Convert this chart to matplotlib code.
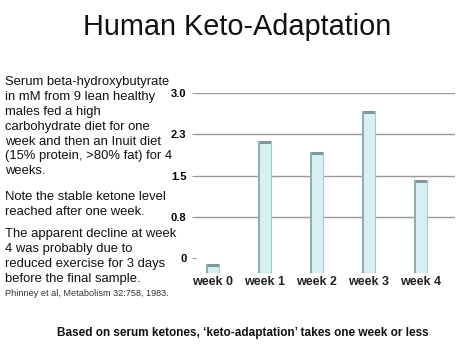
import numpy as np
import matplotlib
matplotlib.use("Agg")
import matplotlib.pyplot as plt
import matplotlib.transforms as mtransforms

plt.rcParams['font.family'] = ['Liberation Sans', 'DejaVu Sans']

weeks = ["week 0", "week 1", "week 2", "week 3", "week 4"]
bhb = [-0.11, 2.13, 1.93, 2.67, 1.42]
floor = -0.27
yticks = [0, 0.75, 1.5, 2.25, 3.0]
ytick_labels = ["0", "0.8", "1.5", "2.3", "3.0"]

fig = plt.figure(figsize=(4.74, 3.55), dpi=100)
fig.patch.set_facecolor("white")

ax = fig.add_axes([196 / 474, 1 - 273 / 355, (455 - 196) / 474, (273 - 93) / 355])
x = np.arange(len(weeks))
heights = np.array(bhb) - floor
ax.bar(x, heights, bottom=floor, width=0.25, color="#d7eff1",
       edgecolor="#a9c6c8", linewidth=0.8, zorder=3)
# darker caps on top of each column
ax.bar(x, 0.05, bottom=np.array(bhb) - 0.05, width=0.25, color="#7a9a9c",
       linewidth=0, zorder=4)
# shaded left edge
ax.bar(x - 0.1, heights, bottom=floor, width=0.03, color="#8fb0b2",
       linewidth=0, zorder=4)

ax.set_xlim(-0.31, 4.67)
ax.set_ylim(floor, 3.0)
ax.set_yticks(yticks)
ax.set_yticklabels(ytick_labels, fontsize=8, fontweight="bold")
for t in yticks[1:]:
    ax.axhline(t, color="#9a9a9a", linewidth=1.0, zorder=1)
ax.set_xticks(x)
ax.set_xticklabels(weeks, fontsize=9, fontweight="bold", color="#222222")
shift = mtransforms.ScaledTranslation(10 / 100, 0, fig.dpi_scale_trans)
for lab in ax.get_xticklabels():
    lab.set_transform(lab.get_transform() + shift)
ax.tick_params(axis="x", length=0, pad=2)
ax.tick_params(axis="y", length=3, color="#9a9a9a", pad=4)
for s in ax.spines.values():
    s.set_visible(False)
ax.set_facecolor("none")

fig.text(0.5, 1 - 27 / 355, "Human Keto-Adaptation", ha="center", va="center",
         fontsize=20.8, color="#111111")

block1 = ("Serum beta-hydroxybutyrate\nin mM from 9 lean healthy\nmales fed a high\n"
          "carbohydrate diet for one\nweek and then an Inuit diet\n"
          "(15% protein, >80% fat) for 4\nweeks.")
block2 = "Note the stable ketone level\nreached after one week."
block3 = ("The apparent decline at week\n4 was probably due to\n"
          "reduced exercise for 3 days\nbefore the final sample.")
fs = 9.4
ls = 1.32
fig.text(5 / 474, 1 - 76 / 355, block1, ha="left", va="top", fontsize=fs,
         linespacing=ls, color="#111111")
fig.text(5 / 474, 1 - 191 / 355, block2, ha="left", va="top", fontsize=fs,
         linespacing=ls, color="#111111")
fig.text(5 / 474, 1 - 228 / 355, block3, ha="left", va="top", fontsize=fs,
         linespacing=ls, color="#111111")
fig.text(5 / 474, 1 - 293 / 355, "Phinney et al, Metabolism 32:758, 1983.",
         ha="left", va="center", fontsize=6.6, color="#333333")

fig.text(243 / 474, 1 - 333 / 355,
         "Based on serum ketones, \u2018keto-adaptation\u2019 takes one week or less",
         ha="center", va="center", fontsize=8.5, fontweight="bold", color="#111111")

fig.savefig("out.png", dpi=100)
